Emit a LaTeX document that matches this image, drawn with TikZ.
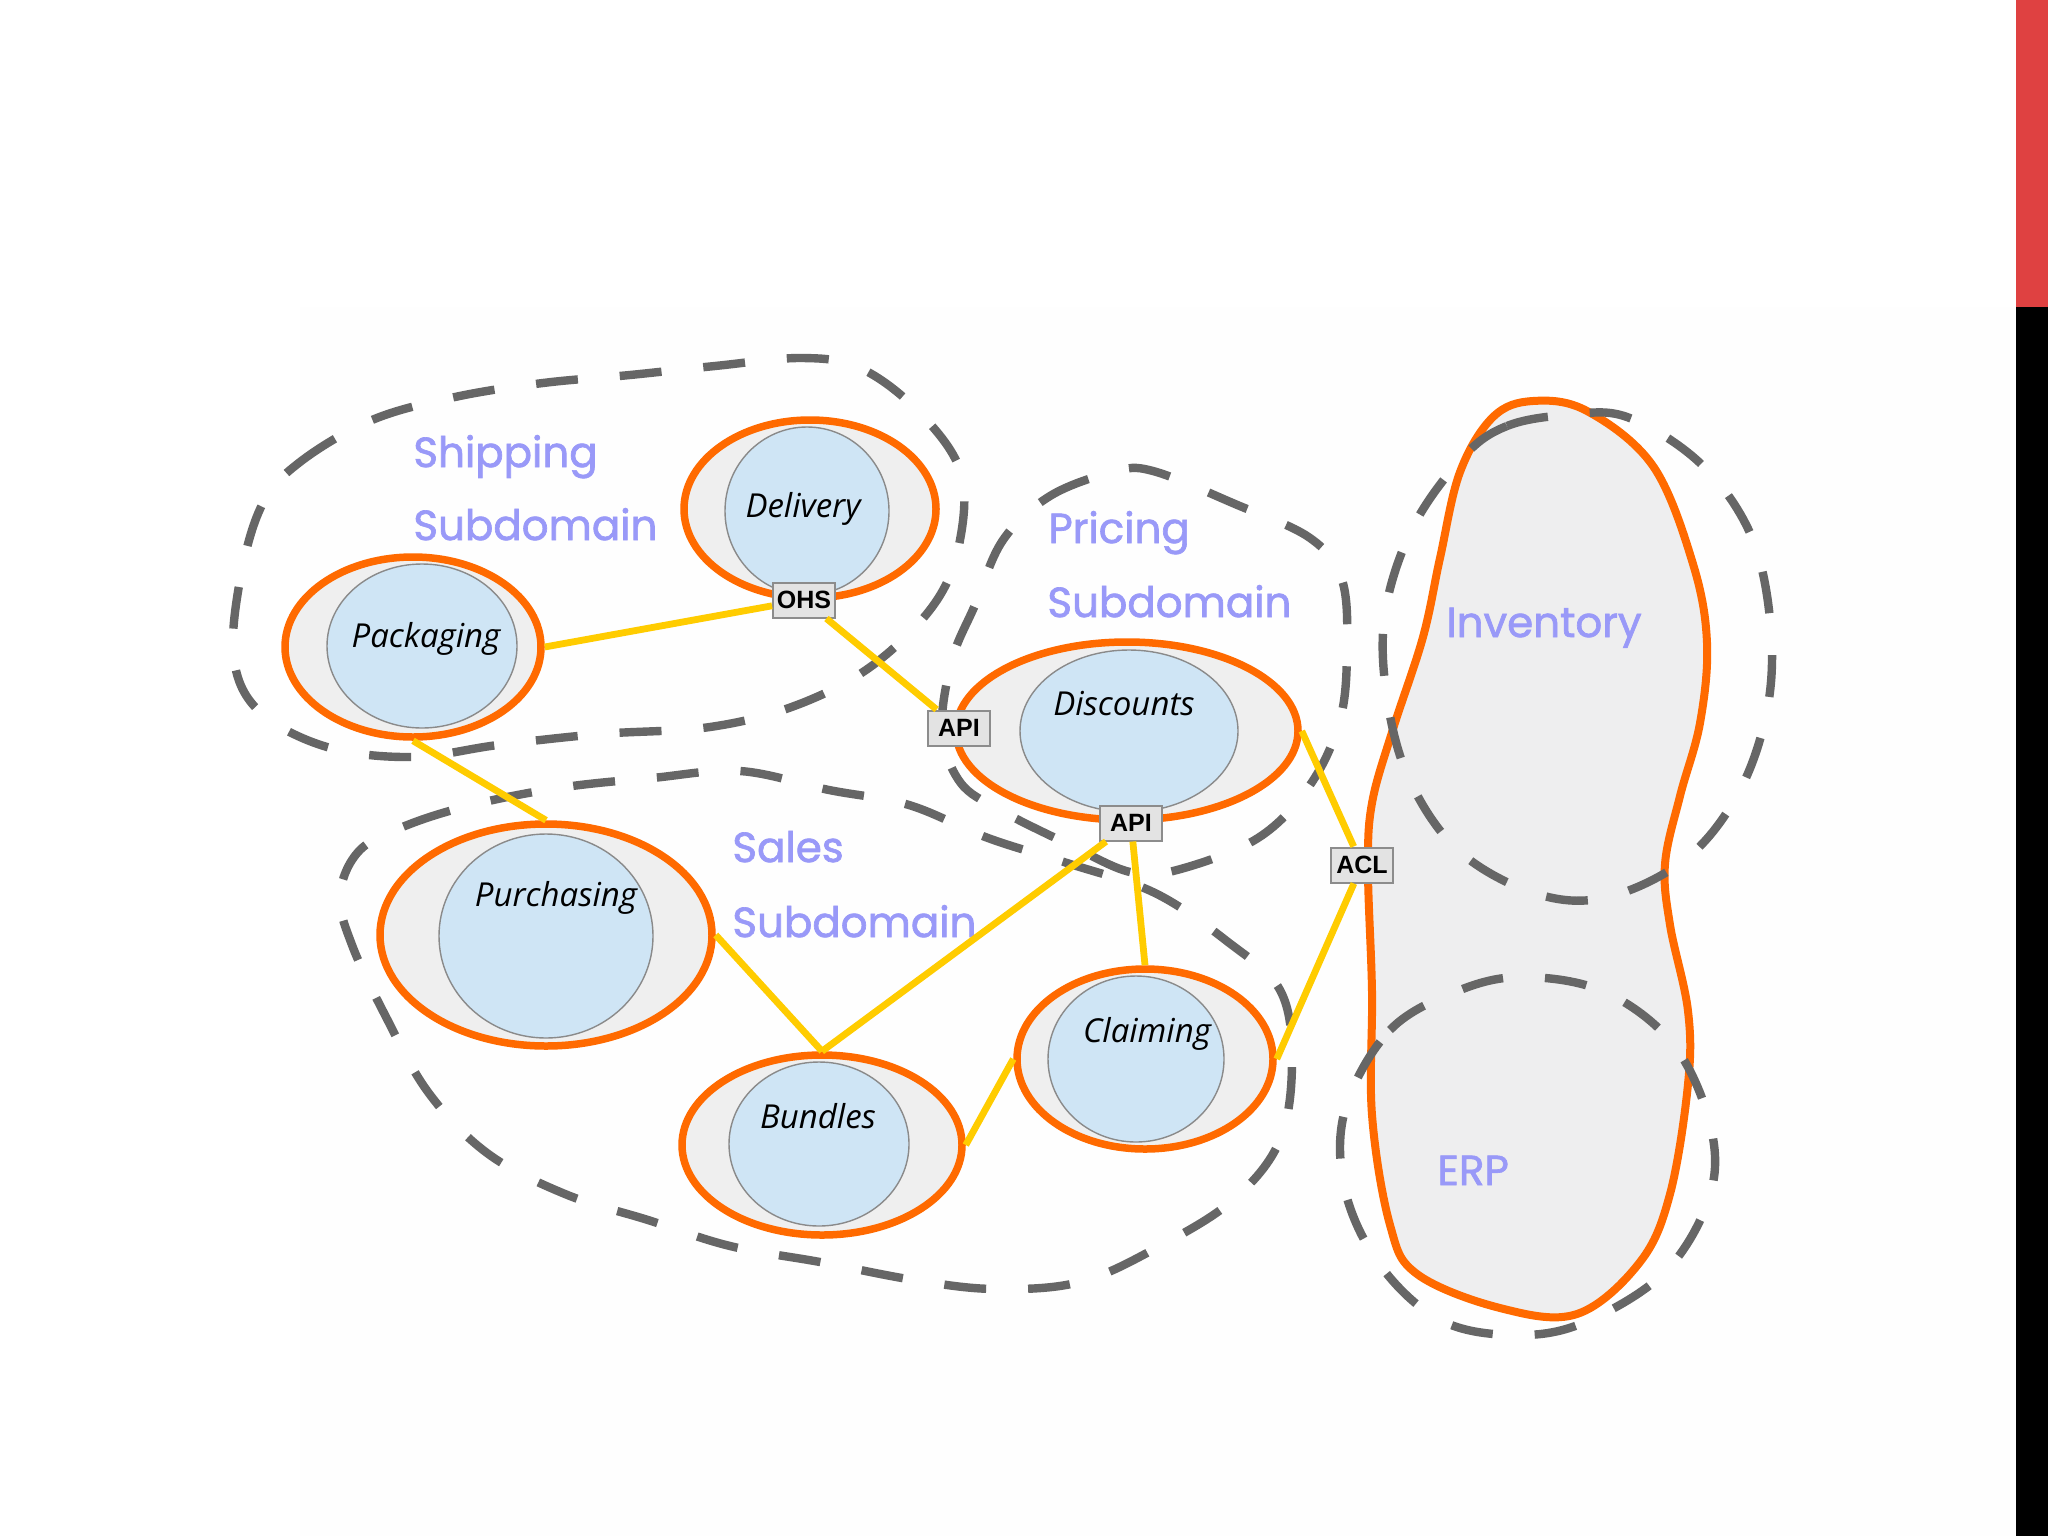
\documentclass[tikz,border=0pt]{standalone}
\usepackage{fontspec}
\setmainfont{Open Sans}
\newfontfamily\subfont[FakeBold=1.6]{Poppins}
\newfontfamily\boxfont{Liberation Sans}
\usetikzlibrary{shapes.geometric}
\definecolor{orng}{HTML}{FF6A00}
\definecolor{ringfill}{HTML}{EFEFEF}
\definecolor{bluefill}{HTML}{CFE5F5}
\definecolor{innerline}{HTML}{8A8A8A}
\definecolor{dashgrey}{HTML}{666666}
\definecolor{conncol}{HTML}{FFCC00}
\definecolor{lav}{HTML}{9999F8}
\definecolor{blobfill}{HTML}{EEEEEF}
\definecolor{redbar}{HTML}{DF4141}
\definecolor{boxfill}{HTML}{E3E3E3}
\definecolor{boxline}{HTML}{8C8C8C}
\definecolor{lowbg}{HTML}{FEFEFE}
\tikzset{
  outerell/.style={ellipse, draw=orng, line width=3.75pt, fill=ringfill, inner sep=0pt},
  innerell/.style={ellipse, draw=innerline, line width=0.7pt, fill=bluefill, inner sep=0pt},
  dashline/.style={draw=dashgrey, line width=4.2pt, dash pattern=on 21pt off 21pt},
  conn/.style={draw=conncol, line width=3.4pt},
  nodelabel/.style={font=\fontsize{16.5}{18}\selectfont\itshape, text=black, inner sep=0pt, anchor=base},
  sublabel/.style={font=\subfont\fontsize{21}{24}\selectfont, text=lav, inner sep=0pt, anchor=base west},
  tagbox/.style={draw=boxline, line width=1pt, fill=boxfill, minimum width=31pt, minimum height=17.5pt, inner sep=0pt, font=\boxfont\bfseries\fontsize{12.5}{13}\selectfont}
}
\begin{document}
\begin{tikzpicture}[x=0.5pt,y=-0.5pt]
\useasboundingbox (0,0) rectangle (2048,1536);
\fill[white] (0,0) rectangle (2016,1536);
\fill[lowbg] (300,307) rectangle (2016,1536);
\fill[redbar] (2016,0) rectangle (2048,307);
\fill[black] (2016,307) rectangle (2048,1536);

% Inventory / ERP blob
\draw[orng, line width=4pt, fill=blobfill] plot[smooth cycle, tension=0.6] coordinates {
 (1533,401) (1587,411) (1653,466) (1693,564) (1707,643) (1700,723) (1680,796) (1665,864)
 (1670,925) (1688,1011) (1688,1084) (1670,1194) (1640,1262) (1577,1314) (1500,1308)
 (1417,1274) (1390,1225) (1372,1115) (1372,992) (1368,870) (1372,803) (1393,729)
 (1423,637) (1440,558) (1460,472) (1493,417)};

% dashed subdomain outlines
\draw[dashline] plot[smooth cycle, tension=0.6] coordinates {
 (262,505) (300,462) (372,420) (455,397) (543,383) (630,375) (715,366) (802,358)
 (860,368) (917,410) (960,470) (960,540) (935,603) (873,665) (797,705) (710,727)
 (600,734) (498,745) (412,757) (327,747) (260,712) (234,660) (240,580)};
\draw[dashline] plot[smooth cycle, tension=0.6] coordinates {
 (1003,540) (1050,496) (1113,472) (1153,471) (1235,504) (1310,538) (1342,580)
 (1347,650) (1340,720) (1310,785) (1258,838) (1177,870) (1130,872) (1070,845)
 (1000,810) (960,782) (942,730) (952,660) (975,605)};
\draw[dashline] plot[smooth cycle, tension=0.6] coordinates {
 (360,850) (410,824) (480,803) (565,787) (652,778) (740,771) (829,790) (909,805)
 (988,838) (1067,863) (1155,893) (1228,942) (1280,990) (1292,1060) (1280,1140)
 (1233,1200) (1158,1247) (1080,1282) (995,1289) (914,1280) (820,1262) (730,1246)
 (648,1220) (565,1194) (487,1153) (428,1092) (385,1015) (352,945) (340,895)};
\draw[dashline] plot[smooth cycle, tension=0.6] coordinates {
 (1463,457) (1507,426) (1567,415) (1627,417) (1700,463) (1750,533) (1770,619)
 (1768,705) (1740,790) (1687,858) (1608,897) (1537,894) (1460,852) (1410,781)
 (1387,698) (1385,613) (1413,527)};
\draw[dashline] plot[smooth cycle, tension=0.6] coordinates {
 (1345,1110) (1390,1030) (1460,990) (1525,977) (1605,992) (1673,1044) (1710,1124)
 (1710,1195) (1665,1272) (1583,1323) (1513,1335) (1440,1320) (1380,1265) (1345,1190)};

% bounded contexts
\node[outerell, minimum width=126pt, minimum height=89pt] (deliv) at (810,509) {};
\node[innerell, minimum width=82pt, minimum height=84pt] (delivIn) at (807,511) {};
\node[outerell, minimum width=128pt, minimum height=90pt] (pack) at (413,647) {};
\node[innerell, minimum width=95pt, minimum height=82pt] (packIn) at (422,646) {};
\node[outerell, minimum width=171pt, minimum height=89pt] (disc) at (1127,731) {};
\node[innerell, minimum width=109pt, minimum height=81pt] (discIn) at (1129,731) {};
\node[outerell, minimum width=166pt, minimum height=111pt] (purch) at (546,935) {};
\node[innerell, minimum width=107pt, minimum height=102pt] (purchIn) at (546,936) {};
\node[outerell, minimum width=140pt, minimum height=90pt] (bund) at (822,1145) {};
\node[innerell, minimum width=90pt, minimum height=82pt] (bundIn) at (819,1144) {};
\node[outerell, minimum width=128pt, minimum height=90pt] (claim) at (1145,1059) {};
\node[innerell, minimum width=88pt, minimum height=83pt] (claimIn) at (1136,1059) {};

\node[nodelabel] (delivL) at (803,517) {Delivery};
\node[nodelabel] (packL) at (426,647) {Packaging};
\node[nodelabel] (discL) at (1124,715) {Discounts};
\node[nodelabel] (purchL) at (556,906) {Purchasing};
\node[nodelabel] (bundL) at (818,1128) {Bundles};
\node[nodelabel] (claimL) at (1147,1042) {Claiming};

% subdomain labels
\node[sublabel] (shipA) at (413,467) {Shipping};
\node[sublabel] (shipB) at (413,540) {Subdomain};
\node[sublabel] (priA) at (1048,543) {Pricing};
\node[sublabel] (priB) at (1047,617) {Subdomain};
\node[sublabel] (salA) at (732,862) {Sales};
\node[sublabel] (salB) at (732,937) {Subdomain};
\node[sublabel] (inv) at (1446,637) {Inventory};
\node[sublabel] (erp) at (1437,1185) {ERP};

% integration points
\node[tagbox] (ohs) at (804,600) {OHS};
\node[tagbox] (apiL) at (959,728) {API};
\node[tagbox] (apiB) at (1131,823) {API};
\node[tagbox] (acl) at (1362,865) {ACL};

% connectors
\draw[conn] (pack.east) -- (ohs);
\draw[conn] (ohs) -- (apiL);
\draw[conn] (pack.south) -- (purch.north);
\draw[conn] (purch.east) -- (bund.north);
\draw[conn] (bund.north) -- (apiB);
\draw[conn] (apiB) -- (claim.north);
\draw[conn] (bund.east) -- (claim.west);
\draw[conn] (disc.east) -- (acl);
\draw[conn] (acl) -- (claim.east);
\end{tikzpicture}
\end{document}
